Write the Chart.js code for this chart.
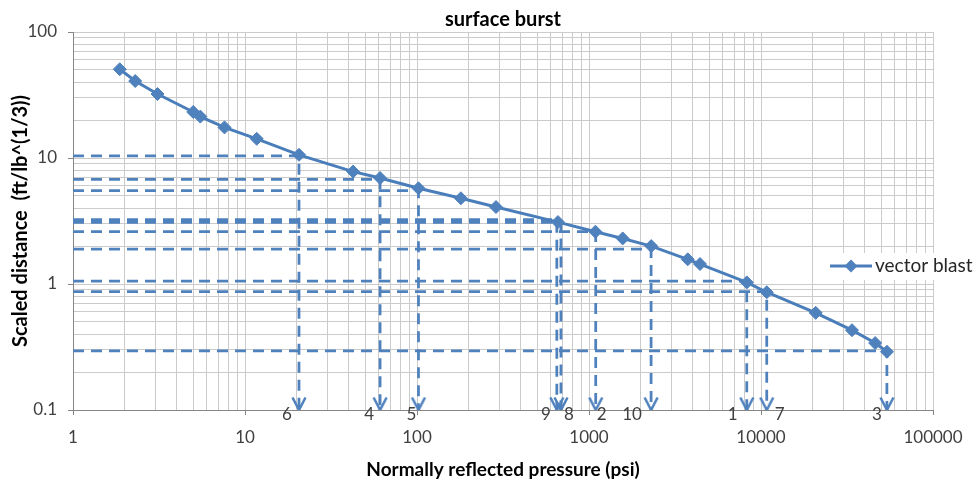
<!DOCTYPE html>
<html>
<head>
<meta charset="utf-8">
<script src="https://cdn.jsdelivr.net/npm/chart.js@4.4.1/dist/chart.umd.min.js"></script>
<style>
    html, body { margin: 0; padding: 0; background: #fff; }
</style>
</head>
<body>
<canvas id="blast" width="976" height="482"></canvas>
<script>
// curve points
const pressure = [1.87, 2.3, 3.1, 5.0, 5.5, 7.6, 11.7, 20.6, 42.5, 61, 102, 180, 288, 660, 1090, 1570, 2300, 3750, 4420, 8270, 10800, 20800, 33800, 46100, 54000];
const distance = [50.6, 40.8, 32.2, 23.2, 21.3, 17.5, 14.2, 10.6, 7.8, 6.94, 5.75, 4.79, 4.08, 3.1, 2.6, 2.3, 2.0, 1.57, 1.44, 1.03, 0.86, 0.59, 0.43, 0.34, 0.29];

// numbered cases, each with a dashed guide line and an arrow down to the x axis
const caseNames = ["6", "4", "5", "9", "8", "2", "10", "1", "7", "3"];
const casePressure = [20.6, 61, 102, 650, 687, 1094, 2296, 8265, 10800, 53950];
const caseDistance = [10.4, 6.78, 5.5, 3.25, 3.08, 2.6, 1.89, 1.056, 0.87, 0.294];

const xDecades = [1, 10, 100, 1000, 10000, 100000];
const yDecades = [0.1, 1, 10, 100];

const blue = "#4F81BD";
const lineBlue = "#4A7EBB";
const fontName = "Lato";

// decade ticks plus the 2..9 minor lines in between
function logTicks(decades) {
    let out = [];
    decades.forEach((d, i) => {
        out.push({ value: d });
        if (i < decades.length - 1) {
            for (let k = 2; k < 10; k++) out.push({ value: d * k });
        }
    });
    return out;
}

function isDecade(v) {
    let l = Math.log10(v);
    return Math.abs(l - Math.round(l)) < 1e-6;
}

// open arrow head, the tip sits at the centre of the little canvas
let arrow = document.createElement("canvas");
arrow.width = 18;
arrow.height = 28;
let actx = arrow.getContext("2d");
actx.strokeStyle = blue;
actx.lineWidth = 2.5;
actx.beginPath();
actx.moveTo(2.5, 1.5);
actx.lineTo(9, 14);
actx.lineTo(15.5, 1.5);
actx.stroke();

// label offsets (px) next to each arrow
const labelShift = [-12, -11, -7, -11, 8, 6, -19, -14, 13, -10];

const caseLabels = {
    id: "caseLabels",
    afterDatasetsDraw(chart) {
        const ctx = chart.ctx;
        const xs = chart.scales.x;
        const ys = chart.scales.y;
        ctx.save();
        ctx.font = "17px " + fontName;
        ctx.fillStyle = "#404040";
        ctx.textAlign = "center";
        ctx.textBaseline = "middle";
        caseNames.forEach((name, i) => {
            ctx.fillText(name, xs.getPixelForValue(casePressure[i]) + labelShift[i], ys.bottom + 5);
        });
        ctx.restore();
    }
};

// legend sits over the plot, on a white patch
const legendBox = {
    id: "legendBox",
    afterDraw(chart) {
        const ctx = chart.ctx;
        const ds = chart.data.datasets[0];
        let y = 266;
        ctx.save();
        ctx.fillStyle = "#fff";
        ctx.fillRect(824, 253, 152, 27);
        ctx.strokeStyle = ds.borderColor;
        ctx.lineWidth = ds.borderWidth;
        ctx.beginPath();
        ctx.moveTo(830, y);
        ctx.lineTo(872, y);
        ctx.stroke();
        ctx.fillStyle = ds.pointBackgroundColor;
        ctx.beginPath();
        ctx.moveTo(851 - 6.5, y);
        ctx.lineTo(851, y - 6.5);
        ctx.lineTo(851 + 6.5, y);
        ctx.lineTo(851, y + 6.5);
        ctx.closePath();
        ctx.fill();
        ctx.font = "19px " + fontName;
        ctx.fillStyle = "#262626";
        ctx.textBaseline = "middle";
        ctx.fillText(ds.label, 875, y);
        ctx.restore();
    }
};

let datasets = [{
    label: "vector blast",
    data: pressure.map((p, i) => ({ x: p, y: distance[i] })),
    borderColor: lineBlue,
    borderWidth: 3,
    pointStyle: "rectRot",
    pointRadius: 6.5,
    pointBackgroundColor: blue,
    pointBorderColor: blue,
    pointBorderWidth: 1,
    tension: 0,
    fill: false
}];

caseNames.forEach((name, i) => {
    datasets.push({
        label: "case " + name,
        data: [
            { x: xDecades[0], y: caseDistance[i] },
            { x: casePressure[i], y: caseDistance[i] },
            { x: casePressure[i], y: yDecades[0] }
        ],
        borderColor: blue,
        borderWidth: 2.75,
        borderDash: [11, 7],
        pointRadius: [0, 0, 6],
        pointStyle: ["circle", "circle", arrow],
        pointBorderWidth: 0,
        tension: 0,
        fill: false
    });
});

const gridColor = "#CBCBCB";
const axisColor = "#868686";

function axisOpts(decades, extra) {
    return Object.assign({
        type: "logarithmic",
        min: decades[0],
        max: decades[decades.length - 1],
        afterBuildTicks: s => { s.ticks = logTicks(decades); },
        ticks: {
            autoSkip: false,
            maxRotation: 0,
            color: "#404040",
            font: { family: fontName, size: 17 },
            callback: v => isDecade(v) ? String(v) : ""
        },
        grid: {
            color: gridColor,
            lineWidth: 1,
            tickLength: 5,
            tickColor: c => (c.tick && isDecade(c.tick.value)) ? axisColor : "rgba(0,0,0,0)"
        },
        border: { color: axisColor, width: 1 }
    }, extra);
}

let xAxis = axisOpts(xDecades, {
    afterFit: s => { s.height = 72; },
    title: {
        display: true,
        text: "Normally reflected pressure (psi)",
        color: "#000",
        font: { family: fontName, size: 19, weight: "bold" },
        padding: { top: 0, bottom: 1 }
    }
});
xAxis.ticks.padding = 12;

let yAxis = axisOpts(yDecades, {
    afterFit: s => { s.width = 73; },
    title: {
        display: true,
        text: "Scaled distance  (ft/lb^(1/3))",
        color: "#000",
        font: { family: fontName, size: 20, weight: "bold" },
        padding: { top: 8.5, bottom: 0 }
    }
});
yAxis.ticks.padding = 11;

new Chart(document.getElementById("blast"), {
    type: "line",
    data: { datasets: datasets },
    options: {
        responsive: false,
        animation: false,
        layout: { padding: { left: 0, right: 43, top: 0, bottom: 0 } },
        scales: { x: xAxis, y: yAxis },
        plugins: {
            legend: { display: false },
            tooltip: { enabled: false },
            title: {
                display: true,
                text: "surface burst",
                fullSize: false,
                color: "#000",
                font: { family: fontName, size: 20, weight: "bold" },
                padding: { top: 7.5, bottom: 0.5 }
            }
        }
    },
    plugins: [caseLabels, legendBox]
});
</script>
</body>
</html>
